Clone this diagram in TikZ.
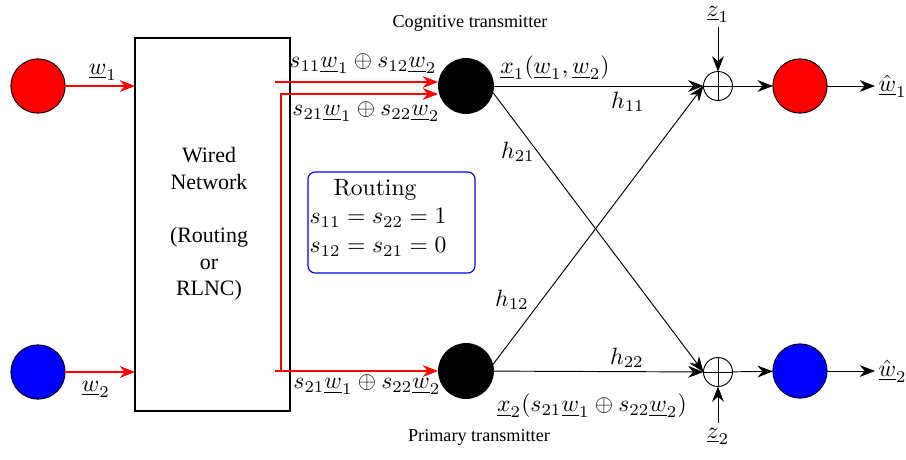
\documentclass[tikz,border=0pt]{standalone}
\usepackage{fontspec}
\newfontfamily\timesfont{Liberation Serif}
\usetikzlibrary{arrows.meta}
\begin{document}
\begin{tikzpicture}[x=0.424pt,y=-0.424pt,
  >={Stealth[length=6.5pt,width=5pt]},
  every node/.style={inner sep=0pt, outer sep=0pt},
  redln/.style={red, line width=0.5pt, ->},
  blkln/.style={black, line width=0.4pt, ->},
  src/.style={circle, draw=black, line width=0.4pt, minimum size=23pt},
  tx/.style={circle, fill=black, minimum size=23.7pt},
  summ/.style={circle, draw, line width=0.4pt, minimum size=12.3pt,
    path picture={\draw[line width=0.4pt] (path picture bounding box.north) -- (path picture bounding box.south)
      (path picture bounding box.west) -- (path picture bounding box.east);}},
  tlbl/.style={font=\timesfont\fontsize{7.7}{9}\selectfont},
]
\useasboundingbox (0,0) rectangle (906,459);

% sources
\node[src, fill=red] (in1) at (38,86) {};
\node[src, fill=blue] (in2) at (38,372) {};

% wired network box
\node[draw, line width=0.6pt, minimum width=65.7pt, minimum height=158.2pt] (net) at (212.5,224.5) {};
\node[align=center, font=\timesfont\fontsize{9.3}{11.3}\selectfont] (nettext) at (209,224) {Wired\\Network\\[11.3pt](Routing\\or\\RLNC)};

% input arrows
\draw[redln] (in1) -- (in1 -| net.west);
\draw[redln] (in2) -- (in2 -| net.west);
\node (w1) at (103,72) {$\underline{w}_1$};
\node (w2) at (96,389) {$\underline{w}_2$};

% transmitters
\node[tx] (tx1) at (466,86) {};
\node[tx] (tx2) at (466,371) {};

% red routing lines
\coordinate (r1) at (275,82);
\coordinate (r2) at (281,94);
\coordinate (rv) at (281,371);
\coordinate (r3) at (275,371);
\draw[redln] (r1) -- (r1 -| tx1.west);
\draw[redln] (rv) -- (r2) -- (r2 -| tx1.west);
\draw[redln] (r3) -- (tx2.west);

\node (l1) at (363,64) {$s_{11}\underline{w}_1 \oplus s_{12}\underline{w}_2$};
\node (l2) at (366,112) {$s_{21}\underline{w}_1 \oplus s_{22}\underline{w}_2$};
\node (l3) at (367,385) {$s_{21}\underline{w}_1 \oplus s_{22}\underline{w}_2$};

% routing box
\node[draw=blue, rounded corners=3pt, line width=0.5pt, minimum width=70.8pt, minimum height=42.8pt] (rbox) at (391.5,222.5) {};
\node (rt1) at (375,190) {Routing};
\node (rt2) at (378,218) {$s_{11}=s_{22}=1$};
\node (rt3) at (378,247) {$s_{12}=s_{21}=0$};

% transmitter labels
\node[tlbl] (cog) at (470,23) {Cognitive transmitter};
\node[tlbl] (prim) at (479,437) {Primary transmitter};
\node (x1) at (555,68) {$\underline{x}_1(\underline{w}_1,\underline{w}_2)$};
\node (x2) at (592,406) {$\underline{x}_2(s_{21}\underline{w}_1 \oplus s_{22}\underline{w}_2)$};

% sums and receivers
\node[summ] (sum1) at (718,86) {};
\node[summ] (sum2) at (718,372) {};
\node[src, fill=red] (out1) at (800,86) {};
\node[src, fill=blue] (out2) at (800,371) {};

% channels
\draw[blkln] (tx1) -- (sum1);
\draw[blkln] (tx1.-14) -- (sum2.west);
\draw[blkln] (tx2.14) -- (sum1.west);
\draw[blkln] (tx2) -- (sum2);
\node (h11) at (628,102) {$h_{11}$};
\node (h22) at (627,358) {$h_{22}$};
\node (h21) at (518,152) {$h_{21}$};
\node (h12) at (512,300) {$h_{12}$};

% noise
\node[outer sep=2pt] (z1) at (718,14) {$\underline{z}_1$};
\node[outer sep=2pt] (z2) at (718,436) {$\underline{z}_2$};
\draw[blkln] (z1) -- (sum1);
\draw[blkln] (z2) -- (sum2);

% outputs
\draw[blkln] (sum1) -- (out1);
\draw[blkln] (sum2) -- (out2);
\node[anchor=west, inner sep=1.5pt] (what1) at (875,86) {$\hat{\underline{w}}_1$};
\node[anchor=west, inner sep=1.5pt] (what2) at (875,371) {$\hat{\underline{w}}_2$};
\draw[blkln] (out1) -- (what1);
\draw[blkln] (out2) -- (what2);
\end{tikzpicture}
\end{document}
